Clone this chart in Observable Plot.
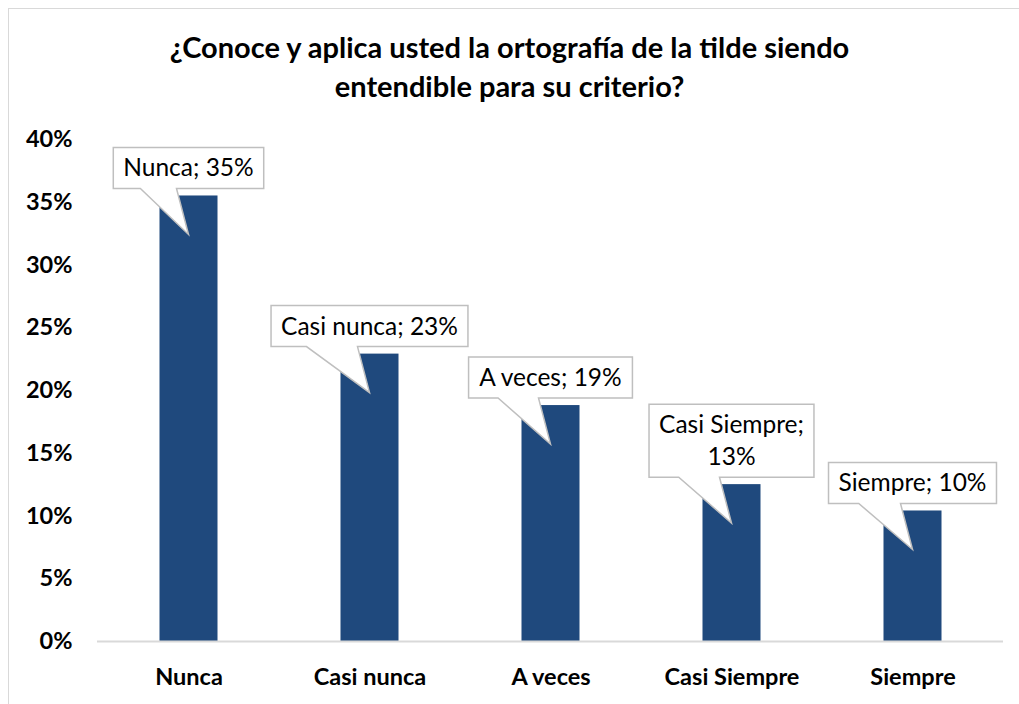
<!DOCTYPE html>
<html><head><meta charset="utf-8">
<script src="https://cdn.jsdelivr.net/npm/d3@7"></script>
<script src="https://cdn.jsdelivr.net/npm/@observablehq/plot@0.6"></script>
<style>
body{margin:0;background:#fff;font-family:Lato,"Open Sans",sans-serif;overflow:hidden;}
#frame{position:absolute;left:8px;top:8px;width:1100px;height:800px;border:1px solid #d9d9d9;box-sizing:border-box;}
#wrap{position:absolute;left:0;top:0;width:1019px;height:704px;}
#title{position:absolute;left:0;top:27px;width:1019px;text-align:center;font-weight:bold;font-size:29px;line-height:39px;color:#000;}
#chart{position:absolute;left:0;top:120px;}
</style></head><body>
<div id="frame"></div>
<div id="wrap">
<div id="title">¿Conoce y aplica usted la ortografía de la tilde siendo<br>entendible para su criterio?</div>
<div id="chart"></div>
</div>
<script>
const categories = ["Nunca", "Casi nunca", "A veces", "Casi Siempre", "Siempre"];
const values = [0.355, 0.229, 0.188, 0.125, 0.104];
const labels = [["Nunca; 35%"], ["Casi nunca; 23%"], ["A veces; 19%"], ["Casi Siempre;", "13%"], ["Siempre; 10%"]];
const yTicks = [0, 0.05, 0.10, 0.15, 0.20, 0.25, 0.30, 0.35, 0.40];

const data = categories.map((c, i) => ({cat: c, value: values[i], label: labels[i]}));

const labelSize = 24.5;
const canvas = document.createElement("canvas");
const ctx = canvas.getContext("2d");
ctx.font = labelSize + "px Lato";

function callouts(index, scales) {
  const g = d3.create("svg:g");
  const bw = scales.x.bandwidth ? scales.x.bandwidth() : 0;
  data.forEach(d => {
    const cx = scales.x(d.cat) + bw / 2;
    const top = scales.y(d.value);
    const tw = d3.max(d.label, s => ctx.measureText(s).width);
    const w = tw + 20;
    const lh = 32;
    const h = 41 + (d.label.length - 1) * lh;
    const bottom = top - 7;
    const y0 = bottom - h;
    const x0 = cx - w / 2;
    const x1 = cx + w / 2;
    const tipY = top + 39;
    const bl = cx - 0.32 * w, br = cx - 12;
    const path = `M${x0},${y0}H${x1}V${bottom}H${br}L${cx},${tipY}L${bl},${bottom}H${x0}Z`;
    g.append("path").attr("d", path).attr("fill", "#fff").attr("stroke", "#bfbfbf").attr("stroke-width", 1.5);
    d.label.forEach((s, j) => {
      g.append("text")
        .attr("x", cx)
        .attr("y", y0 + 29 + j * lh)
        .attr("text-anchor", "middle")
        .attr("font-family", "Lato")
        .attr("font-size", labelSize)
        .attr("fill", "#000")
        .text(s);
    });
  });
  return g.node();
}

const chart = Plot.plot({
  width: 1019,
  height: 584,
  marginTop: 19,
  marginBottom: 63,
  marginLeft: 97,
  marginRight: 16,
  style: {fontFamily: "Lato", background: "transparent"},
  x: {domain: categories, padding: 0, label: null, tickSize: 0},
  y: {domain: [0, 0.4], ticks: yTicks, label: null, tickSize: 0},
  marks: [
    Plot.axisY({ticks: yTicks, tickSize: 0, tickPadding: 0, tickFormat: d => Math.round(d * 100) + "%", fontSize: 23.5, fontWeight: "bold", fill: "#000", dx: -25, label: null}),
    Plot.axisX({tickSize: 0, tickPadding: 27, fontSize: 23.5, fontWeight: "bold", fill: "#000", label: null}),
    Plot.barY(data, {x: "cat", y: "value", fill: "#1f497d", insetLeft: 61.5, insetRight: 61.5}),
    Plot.ruleY([0], {stroke: "#d9d9d9", strokeWidth: 2}),
    callouts
  ]
});
document.getElementById("chart").appendChild(chart);
</script>
</body></html>
